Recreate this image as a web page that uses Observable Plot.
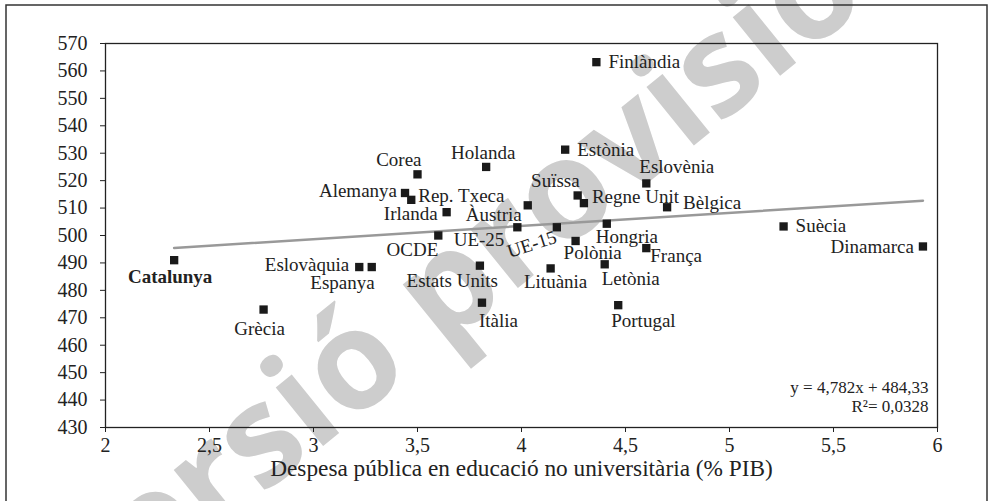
<!DOCTYPE html>
<html>
<head>
<meta charset="utf-8">
<script src="https://cdn.jsdelivr.net/npm/d3@7"></script>
<script src="https://cdn.jsdelivr.net/npm/@observablehq/plot@0.6"></script>
<style>
  html, body { margin: 0; padding: 0; background: #fff; }
  #chart { width: 990px; height: 501px; overflow: hidden; }
</style>
</head>
<body>
<div id="chart"></div>
<script>
// ---- data ----
const names = ["Catalunya","Grècia","Eslovàquia","Espanya","OCDE","UE-25","UE-15","Estats Units","Itàlia",
  "Lituània","Polònia","Letònia","Portugal","França","Hongria","Finlàndia","Holanda","Estònia","Corea",
  "Alemanya","Rep. Txeca","Irlanda","Àustria","Suïssa","Regne Unit","Eslovènia","Bèlgica","Suècia","Dinamarca"];
const spend = [2.33,2.76,3.22,3.28,3.60,3.98,4.17,3.80,3.81,
  4.14,4.26,4.40,4.465,4.60,4.41,4.36,3.83,4.21,3.50,
  3.44,3.47,3.64,4.03,4.27,4.30,4.60,4.70,5.26,5.93];
const score = [491,473,488.5,488.5,500,503,503,489,475.5,
  488,498,489.5,474.6,495.4,504.3,563.2,525,531.3,522.3,
  515.5,513,508.5,511,514.6,511.8,519,510.3,503.3,496];
const xTicks = [2,2.5,3,3.5,4,4.5,5,5.5,6];
const xTickLabels = ["2","2,5","3","3,5","4","4,5","5","5,5","6"];
const yTicks = [430,440,450,460,470,480,490,500,510,520,530,540,550,560,570];
const trendSlope = 4.782, trendIntercept = 484.33;
const eqLines = ["y = 4,782x + 484,33", "R²= 0,0328"];
const xLabel = "Despesa pública en educació no universitària (% PIB)";
const watermark = "Versió provisional";

// ---- label layout (anchor, dx, dy, rotate) ----
const labelLayout = {
  "Catalunya":["middle",-4,17,0], "Grècia":["middle",-4,19,0], "Eslovàquia":["end",-10,-2,0],
  "Espanya":["end",3,16,0], "OCDE":["end",0,14,0], "UE-25":["end",-13,13,0], "UE-15":["middle",-25,17,-18],
  "Estats Units":["end",18,15,0], "Itàlia":["start",-3,18,0], "Lituània":["middle",5,13,0],
  "Polònia":["start",-12,12,0], "Letònia":["start",-3,15,0], "Portugal":["start",-7,16,0],
  "França":["start",4,8,0], "Hongria":["start",-11,13,0], "Finlàndia":["start",12,0,0],
  "Holanda":["middle",-3,-14,0], "Estònia":["start",12,0,0], "Corea":["end",4,-14,0],
  "Alemanya":["end",-8,-2,0], "Rep. Txeca":["start",7,-4,0], "Irlanda":["end",-9,2,0],
  "Àustria":["end",-6,10,0], "Suïssa":["end",2,-15,0], "Regne Unit":["start",8,-6,0],
  "Eslovènia":["start",-7,-16,0], "Bèlgica":["start",16,-4,0], "Suècia":["start",12,-1,0],
  "Dinamarca":["end",-9,0,0]
};

const data = names.map((n, i) => ({name: n, x: spend[i], y: score[i]}));
const xTickData = xTicks.map((v, i) => ({v, label: xTickLabels[i]}));
const xExt = d3.extent(spend);
const trend = xExt.map(x => ({x, y: trendSlope * x + trendIntercept}));

const serif = "Liberation Serif, Times New Roman, serif";

const labelMarks = data.map(d => {
  const [anchor, dx, dy, rot] = labelLayout[d.name];
  return Plot.text([d], {
    x: "x", y: "y", text: "name", textAnchor: anchor, dx, dy, rotate: rot,
    fontSize: 19, fill: "#222", fontFamily: serif,
    fontWeight: d.name === "Catalunya" ? "bold" : "normal"
  });
});

const chart = Plot.plot({
  width: 990, height: 501,
  marginLeft: 105, marginRight: 53, marginTop: 43, marginBottom: 74,
  style: {fontFamily: serif, background: "#fff", overflow: "visible"},
  x: {domain: [2, 6], label: null},
  y: {domain: [430, 570], label: null},
  marks: [
    Plot.text([watermark], {frameAnchor: "top-left", dx: 392, dy: 135, rotate: -39, fontSize: 138,
      fontWeight: "bold", fill: "#cdcdcd", fontFamily: "Open Sans, DejaVu Sans, sans-serif", textAnchor: "middle"}),
    Plot.frame({stroke: "#222", strokeWidth: 1.3}),
    Plot.axisX({ticks: xTicks, tickFormat: () => "", tickSize: 5, stroke: "#222", label: null}),
    Plot.axisY({ticks: yTicks, tickFormat: () => "", tickSize: 5, stroke: "#222", label: null}),
    Plot.text(xTickData, {x: "v", text: "label", frameAnchor: "bottom", lineAnchor: "top", dy: 10,
      fontSize: 20, fontFamily: serif, fill: "#222"}),
    Plot.text(yTicks, {y: d => d, text: d => String(d), frameAnchor: "left", textAnchor: "end", dx: -18,
      fontSize: 20, fontFamily: serif, fill: "#222"}),
    Plot.line(trend, {x: "x", y: "y", stroke: "#999", strokeWidth: 2.5}),
    Plot.dot(data, {x: "x", y: "y", symbol: "square", r: 4.7, fill: "#1a1a1a", stroke: "none"}),
    ...labelMarks,
    Plot.text([eqLines[0]], {frameAnchor: "bottom-right", dx: -9, dy: -35, textAnchor: "end", fontSize: 17, fill: "#222", fontFamily: serif}),
    Plot.text([eqLines[1]], {frameAnchor: "bottom-right", dx: -9, dy: -16, textAnchor: "end", fontSize: 17, fill: "#222", fontFamily: serif}),
    Plot.text([xLabel], {frameAnchor: "bottom", dy: 48, fontSize: 23.3, fill: "#222", fontFamily: serif})
  ]
});

d3.select(chart).append("rect")
  .attr("x", 6).attr("y", 5).attr("width", 981).attr("height", 510)
  .attr("fill", "none").attr("stroke", "#333").attr("stroke-width", 1.5);

document.getElementById("chart").appendChild(chart);
</script>
</body>
</html>
